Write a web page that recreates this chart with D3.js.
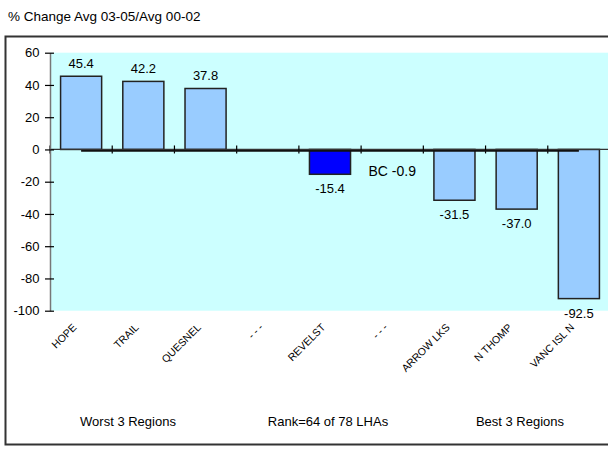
<!DOCTYPE html>
<html>
<head>
<meta charset="utf-8">
<script src="https://cdn.jsdelivr.net/npm/d3@7"></script>
<style>
  html, body { margin: 0; padding: 0; background: #ffffff; }
  svg { display: block; font-family: Arial, "Liberation Sans", sans-serif; }
</style>
</head>
<body>
<svg id="chart" width="608" height="453"></svg>
<script>
// Regions ranked by % change, with the provincial (BC) average
const categories = ["HOPE", "TRAIL", "QUESNEL", "- - -", "REVELST", "- - - ", "ARROW LKS", "N THOMP", "VANC ISL N"];
const values     = [45.4, 42.2, 37.8, null, -15.4, null, -31.5, -37.0, -92.5];
const highlighted = ["REVELST"];
const bcValue = -0.9;
const yTicks = [60, 40, 20, 0, -20, -40, -60, -80, -100];
const title = "% Change Avg 03-05/Avg 00-02";
const groupLabels = ["Worst 3 Regions", "Rank=64 of 78 LHAs", "Best 3 Regions"];

const svg = d3.select("#chart");

const plot = { left: 50, right: 610, top: 52.7, bottom: 310.7 };

const x = d3.scaleBand()
  .domain(categories)
  .range([plot.left, plot.right])
  .paddingInner(0.34)
  .paddingOuter(0.17);

const y = d3.scaleLinear()
  .domain([-100, 60])
  .range([plot.bottom, plot.top]);

const step = x.step();
const center = c => x(c) + x.bandwidth() / 2;
const boundary = c => x(c) - step * x.paddingInner() / 2;

// Title
svg.append("text")
  .attr("x", 8).attr("y", 20.5)
  .attr("font-size", 13.5)
  .attr("fill", "#000")
  .text(title);

// Outer frame
svg.append("rect")
  .attr("x", 5.5).attr("y", 36.5)
  .attr("width", 640).attr("height", 408)
  .attr("fill", "none")
  .attr("stroke", "#333")
  .attr("stroke-width", 2);

// Plot background
svg.append("rect")
  .attr("x", plot.left).attr("y", plot.top)
  .attr("width", plot.right - plot.left)
  .attr("height", plot.bottom - plot.top)
  .attr("fill", "#CCFFFF");

// Bars
const data = categories.map((c, i) => ({ c, v: values[i] })).filter(d => d.v !== null);

svg.append("g").selectAll("rect")
  .data(data)
  .join("rect")
  .attr("x", d => x(d.c))
  .attr("width", x.bandwidth())
  .attr("y", d => y(Math.max(0, d.v)))
  .attr("height", d => Math.abs(y(d.v) - y(0)))
  .attr("fill", d => highlighted.includes(d.c) ? "#0000FF" : "#99CCFF")
  .attr("stroke", "#222")
  .attr("stroke-width", 1.5);

// Zero line with category-boundary ticks
svg.append("line")
  .attr("x1", plot.left).attr("x2", plot.right)
  .attr("y1", y(0)).attr("y2", y(0))
  .attr("stroke", "#333").attr("stroke-width", 1.2);

svg.append("g").selectAll("line")
  .data(categories)
  .join("line")
  .attr("x1", d => boundary(d)).attr("x2", d => boundary(d))
  .attr("y1", y(0) - 4).attr("y2", y(0) + 4)
  .attr("stroke", "#000").attr("stroke-width", 1.2);

// BC average line
svg.append("line")
  .attr("x1", center(categories[0]))
  .attr("x2", center(categories[categories.length - 1]))
  .attr("y1", y(bcValue)).attr("y2", y(bcValue))
  .attr("stroke", "#111").attr("stroke-width", 1.6);

svg.append("text")
  .attr("x", center(categories[5]))
  .attr("y", y(bcValue) + 25)
  .attr("text-anchor", "middle")
  .attr("font-size", 14)
  .text("BC " + bcValue.toFixed(1));

// Value labels
svg.append("g").selectAll("text")
  .data(data)
  .join("text")
  .attr("x", d => center(d.c))
  .attr("y", d => d.v >= 0 ? y(d.v) - 8 : y(d.v) + 19)
  .attr("text-anchor", "middle")
  .attr("font-size", 13)
  .text(d => d.v.toFixed(1));

// Y axis
const yAxis = d3.axisLeft(y)
  .tickValues(yTicks)
  .tickFormat(d => String(d))
  .tickSizeInner(5)
  .tickSizeOuter(0)
  .tickPadding(5.5);

const gy = svg.append("g")
  .attr("transform", `translate(${plot.left},0)`)
  .call(yAxis);
gy.select(".domain").attr("stroke", "#777").attr("stroke-width", 1.5);
gy.selectAll(".tick line").attr("x1", 4).attr("stroke", "#000").attr("stroke-width", 1.2);
gy.selectAll(".tick text")
  .attr("font-size", 13)
  .attr("font-family", 'Arial, "Liberation Sans", sans-serif')
  .attr("fill", "#000");

// Category labels
svg.append("g").selectAll("text")
  .data(categories)
  .join("text")
  .attr("transform", d => `translate(${center(d) - 4},${328}) rotate(-45)`)
  .attr("text-anchor", "end")
  .attr("font-size", 10.5)
  .attr("fill", "#000")
  .text(d => d.trim());

// Group labels below
const groupX = [128, 328, 520];
svg.append("g").selectAll("text")
  .data(groupLabels)
  .join("text")
  .attr("x", (d, i) => groupX[i])
  .attr("y", 426)
  .attr("text-anchor", "middle")
  .attr("font-size", 13)
  .text(d => d);
</script>
</body>
</html>
